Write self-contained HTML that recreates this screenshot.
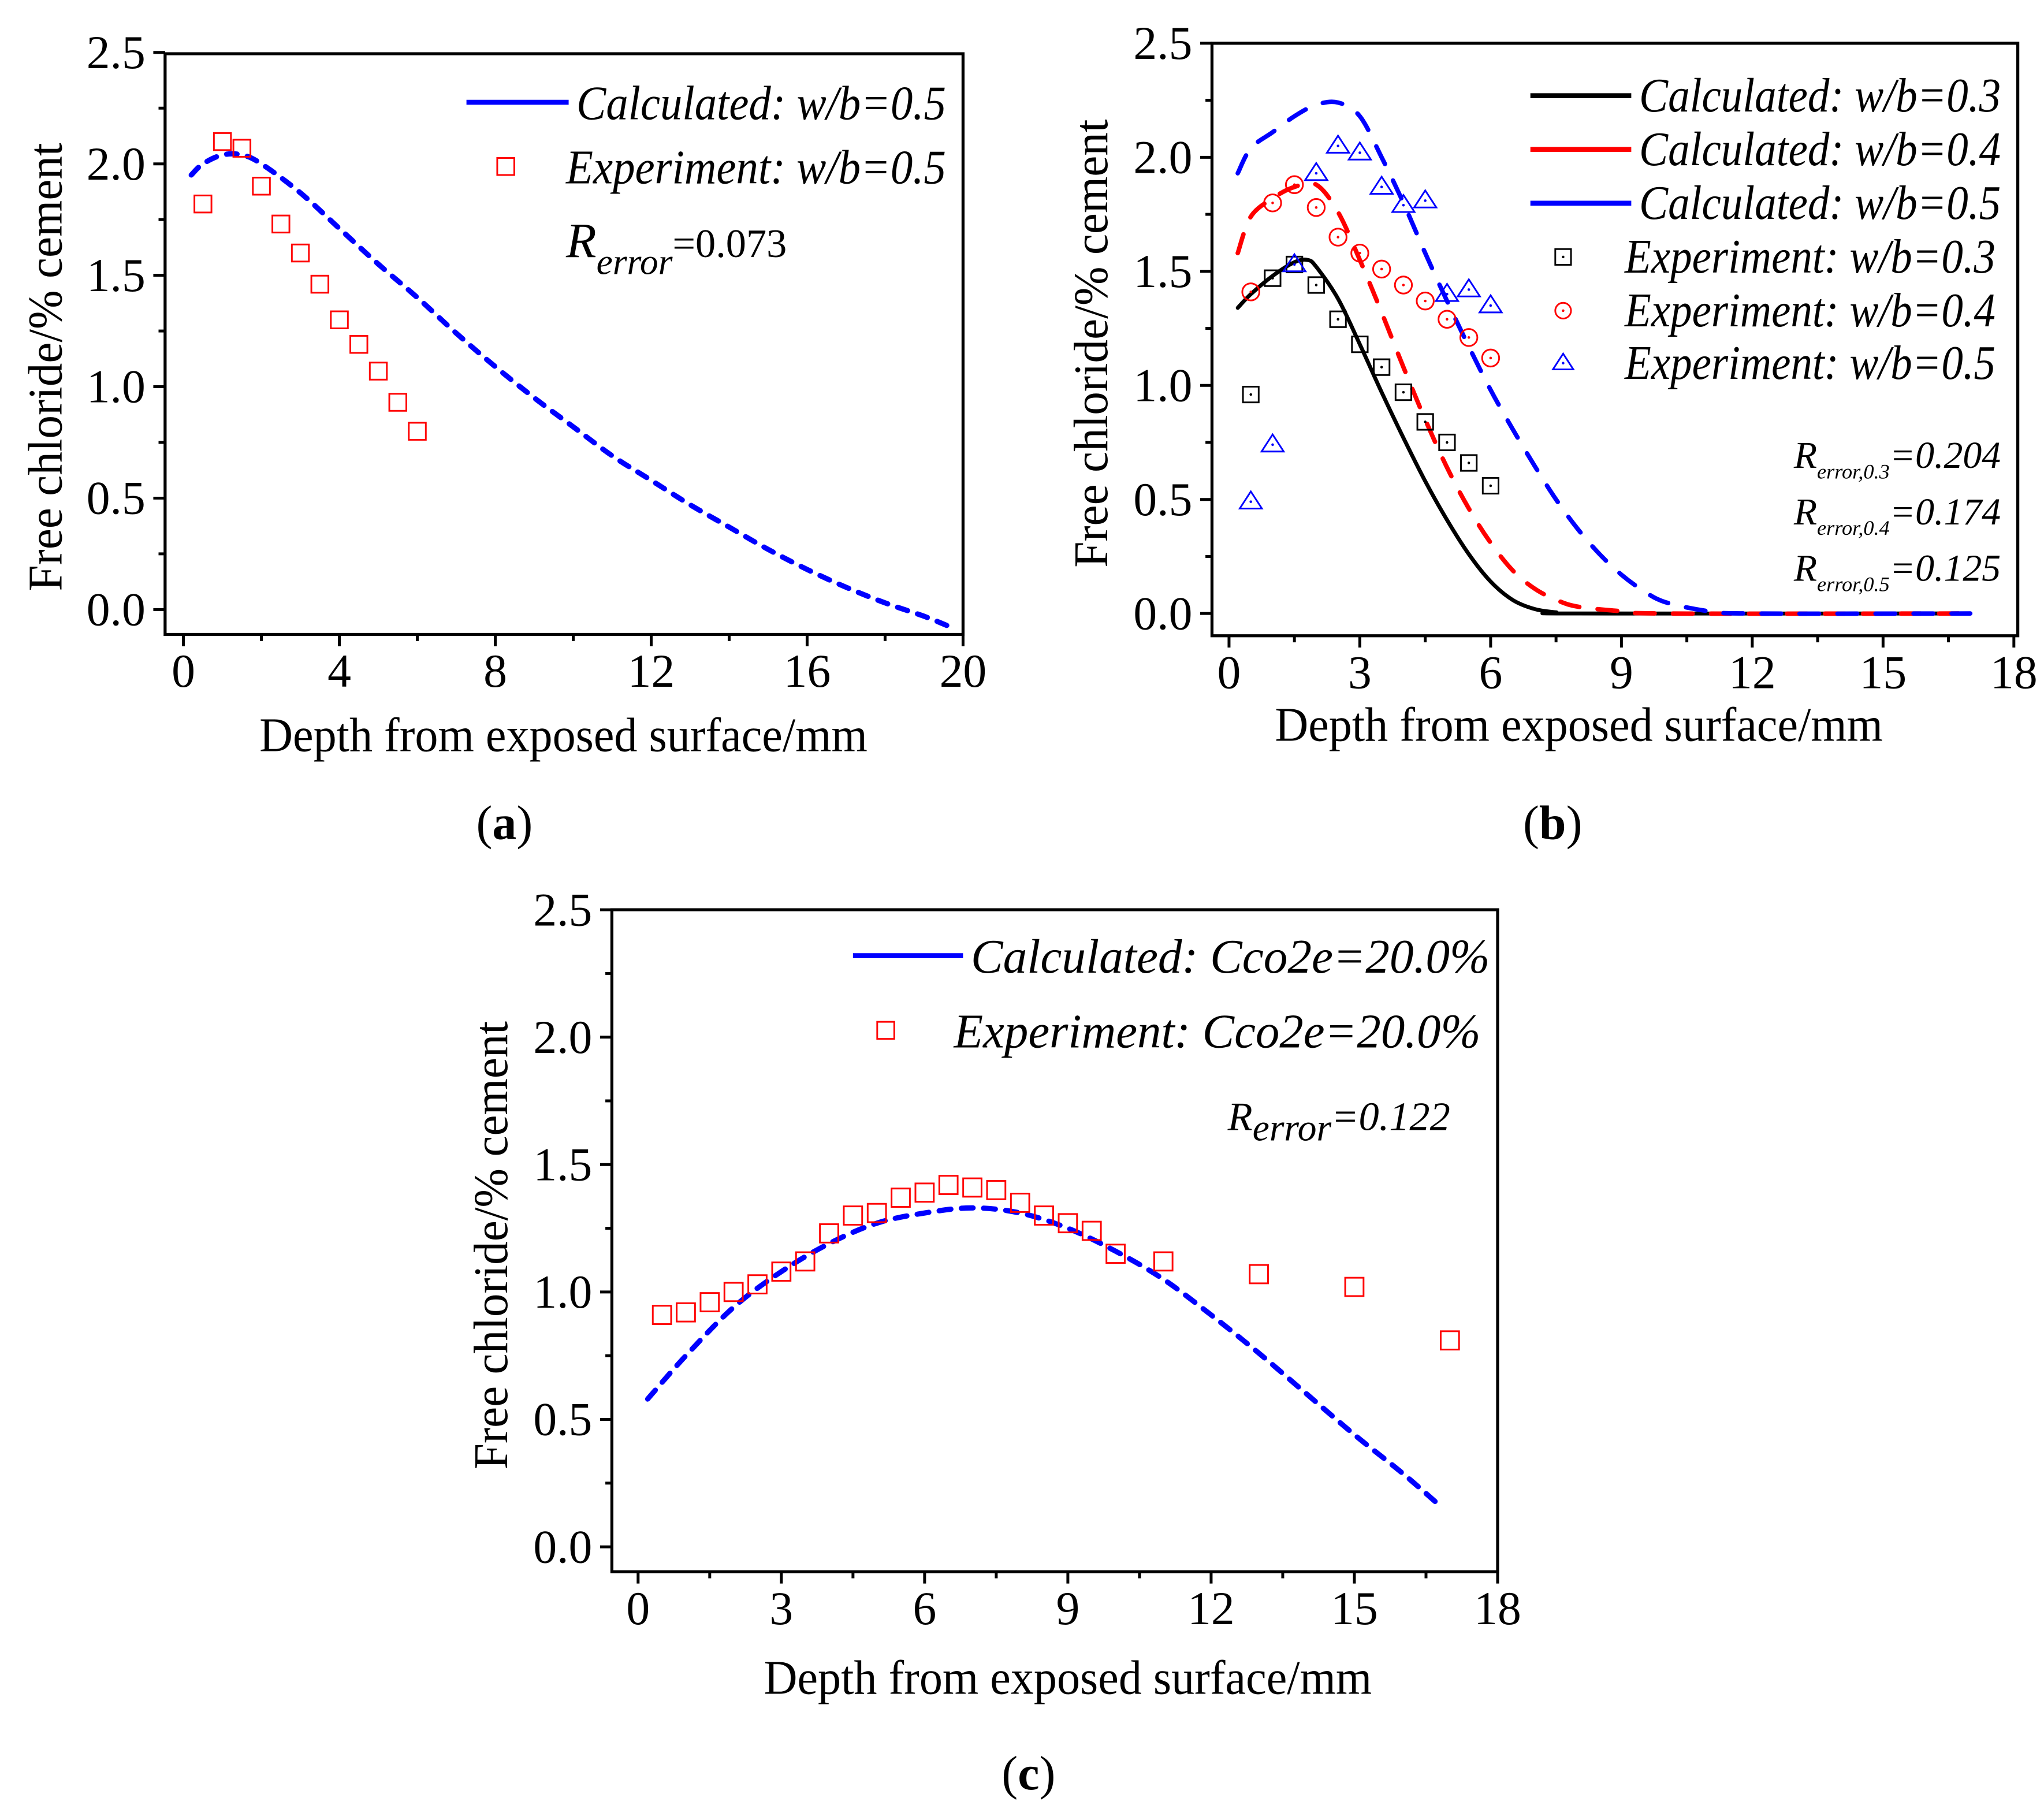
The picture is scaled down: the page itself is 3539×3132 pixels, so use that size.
<!DOCTYPE html>
<html><head><meta charset="utf-8"><style>
html,body{margin:0;padding:0;background:#fff;}
svg{display:block;}
text{font-family:"Liberation Serif",serif;}
</style></head><body>
<svg id="fig" width="3539" height="3132" viewBox="0 0 1560 1380" preserveAspectRatio="none" xmlns="http://www.w3.org/2000/svg"></svg>
<script>
// ---- Panel A data ----
const aExpX=[0.5,1,1.5,2,2.5,3,3.5,4,4.5,5,5.5,6];
const aExpY=[1.82,2.10,2.07,1.90,1.73,1.60,1.46,1.30,1.19,1.07,0.93,0.80];
const aCalcX=[0.2,0.5,1,1.5,2,3,4,5,6,7,8,9,10,11,12,13,14,15,16,17,18,19,19.7];
const aCalcY=[1.95,2.0,2.04,2.04,2.0,1.87,1.71,1.55,1.40,1.24,1.09,0.95,0.82,0.69,0.58,0.47,0.37,0.27,0.18,0.10,0.03,-0.03,-0.08];
const aXTicks=["0","4","8","12","16","20"];
const yTicks=["0.0","0.5","1.0","1.5","2.0","2.5"];
// ---- Panel B data ----
const bX=[0.5,1,1.5,2,2.5,3,3.5,4,4.5,5,5.5,6];
const bExp3=[0.96,1.47,1.53,1.44,1.29,1.18,1.08,0.97,0.84,0.75,0.66,0.56];
const bExp4=[1.41,1.80,1.88,1.78,1.65,1.58,1.51,1.44,1.37,1.29,1.21,1.12];
const bExp5=[0.49,0.74,1.53,1.93,2.05,2.02,1.87,1.79,1.81,1.40,1.42,1.35];
const bC3X=[0.2,0.5,1,1.5,1.8,2,2.5,3,3.5,4,4.5,5,5.5,6,6.5,7,7.5,8,17];
const bC3Y=[1.34,1.40,1.48,1.54,1.55,1.52,1.38,1.18,0.97,0.77,0.58,0.41,0.26,0.14,0.06,0.02,0.005,0,0];
const bC4X=[0.2,0.5,1,1.5,2,2.5,3,3.5,4,4.5,5,5.5,6,6.5,7,7.5,8,9,10,17];
const bC4Y=[1.58,1.74,1.82,1.87,1.88,1.76,1.55,1.32,1.08,0.85,0.64,0.46,0.31,0.19,0.11,0.06,0.03,0.01,0,0];
const bC5X=[0.2,0.5,1,1.5,2,2.5,3,3.5,4,4.5,5,5.5,6,6.5,7,7.5,8,8.5,9,9.5,10,11,12,17];
const bC5Y=[1.93,2.04,2.11,2.18,2.23,2.24,2.18,2.0,1.80,1.58,1.37,1.17,0.98,0.81,0.65,0.50,0.37,0.26,0.17,0.10,0.05,0.01,0,0];
const bXTicks=["0","3","6","9","12","15","18"];
// ---- Panel C data ----
const cExpX=[0.5,1,1.5,2,2.5,3,3.5,4,4.5,5,5.5,6,6.5,7,7.5,8,8.5,9,9.5,10,11,13,15,17];
const cExpY=[0.91,0.92,0.96,1.00,1.03,1.08,1.12,1.23,1.30,1.31,1.37,1.39,1.42,1.41,1.40,1.35,1.30,1.27,1.24,1.15,1.12,1.07,1.02,0.81];
const cCalcX=[0.2,1,2,3,4,5,6,7,8,9,10,11,12,13,14,15,16,16.8];
const cCalcY=[0.58,0.75,0.94,1.08,1.19,1.27,1.31,1.33,1.31,1.25,1.16,1.05,0.91,0.76,0.60,0.44,0.29,0.16];
const cXTicks=["0","3","6","9","12","15","18"];

const NS="http://www.w3.org/2000/svg";
const svg=document.getElementById('fig');
function mk(tag,attrs,parent){const e=document.createElementNS(NS,tag);for(const k in attrs)e.setAttribute(k,attrs[k]);(parent||svg).appendChild(e);return e;}

function panel(P){
  const g=mk('g',{});
  
  
  const sx=v=>P.x0+v*(P.x1-P.x0)/P.xmax;
  const sy=v=>P.y0-v*(P.y0-P.y25)/2.5;
  P.sx=sx;P.sy=sy;
  const fr=mk('rect',{x:P.L,y:P.T,width:P.R-P.L,height:P.B-P.T,fill:'none',stroke:'#000','stroke-width':2.3},g);
  
  
  for(let i=0;i<=10;i++){const v=i*0.25;const y=sy(v);const major=i%2==0;
    mk('line',{x1:P.L-(major?9:5),x2:P.L,y1:y,y2:y,stroke:'#000','stroke-width':2.2},g);
    if(major){const t=mk('text',{x:P.L-15,y:y+12,'font-size':36,'text-anchor':'end'},g);t.textContent=yTicks[i/2];
      
      }
  }
  const n=P.xt.length-1;
  for(let i=0;i<=2*n;i++){const v=i*P.xmax/(2*n);const x=sx(v);const major=i%2==0;
    mk('line',{x1:x,x2:x,y1:P.B,y2:P.B+(major?9:5),stroke:'#000','stroke-width':2.2},g);
    if(major){const t=mk('text',{x:x,y:P.B+40,'font-size':36,'text-anchor':'middle'},g);t.textContent=P.xt[i/2];
      
      }
  }
  const xt=mk('text',{x:P.xtx-232,y:P.xty,'font-size':37,textLength:464,lengthAdjust:'spacingAndGlyphs'},g);xt.textContent='Depth from exposed surface/mm';
  
  
  const yt=mk('text',{x:-171,y:0,'font-size':37,textLength:342,lengthAdjust:'spacingAndGlyphs',transform:`translate(${P.ytx},${P.yty}) rotate(-90)`},g);yt.textContent='Free chloride/% cement';
  
  
  const cap=mk('text',{x:P.capx,y:P.capy,'font-size':37,'text-anchor':'middle'},g);
  cap.innerHTML='(<tspan font-weight="bold">'+P.cap+'</tspan>)';
  
  
  return g;
}
function line(g,P,xs,ys,color,dash,name,w){
  const p0=xs.map((x,i)=>[P.sx(x),P.sy(ys[i])]);
  let d='M'+p0[0][0].toFixed(2)+','+p0[0][1].toFixed(2);
  for(let i=0;i<p0.length-1;i++){
    const a=p0[i-1]||p0[i],b=p0[i],c=p0[i+1],e=p0[i+2]||c;
    const c1=[b[0]+(c[0]-a[0])/6,b[1]+(c[1]-a[1])/6],c2=[c[0]-(e[0]-b[0])/6,c[1]-(e[1]-b[1])/6];
    d+='C'+c1.map(v=>v.toFixed(2))+' '+c2.map(v=>v.toFixed(2))+' '+c.map(v=>v.toFixed(2));
  }
  const p=mk('path',{d:d,fill:'none',stroke:color,'stroke-width':w,'stroke-linecap':'round','stroke-linejoin':'round'},g);
  if(dash)p.setAttribute('stroke-dasharray',dash);
  
  
}
function marker(g,x,y,type,color,dot,s){
  let e;
  if(type=='sq') e=mk('rect',{x:x-s/2,y:y-s/2,width:s,height:s,fill:'none',stroke:color,'stroke-width':1.3},g);
  else if(type=='ci') e=mk('circle',{cx:x,cy:y,r:s/2,fill:'none',stroke:color,'stroke-width':1.3},g);
  else e=mk('path',{d:`M${x},${y-s*0.6}L${x+s*0.65},${y+s*0.4}L${x-s*0.65},${y+s*0.4}Z`,fill:'none',stroke:color,'stroke-width':1.3},g);
  
  
  if(dot) mk('circle',{cx:x,cy:y,r:1,fill:color},g);
}
function pts(g,P,xs,ys,type,color,dot,s){xs.forEach((x,i)=>marker(g,P.sx(x),P.sy(ys[i]),type,color,dot,s));}
function ltext(g,x,y,str,len){const t=mk('text',{x:x,y:y,'font-size':37,'font-style':'italic'},g);t.textContent=str;
  if(len){t.setAttribute('textLength',len);t.setAttribute('lengthAdjust','spacingAndGlyphs');}
  
  return t;}

// Panel A
const A={name:'panel-a',L:126,R:735,T:41,B:484,x0:140,x1:735,xmax:20,y0:465,y25:40,xt:aXTicks,xtx:430,xty:573,ytx:47,yty:280,capx:385,capy:640,cap:'a'};
const ga=panel(A);
line(ga,A,aCalcX,aCalcY,'#0000ff','8,8','calculated-line',4);
pts(ga,A,aExpX,aExpY,'sq','#ff0000',false,13);
mk('line',{x1:356,x2:434,y1:78,y2:78,stroke:'#0000ff','stroke-width':3.8},ga);
ltext(ga,440,91,'Calculated: w/b=0.5',282);
marker(ga,386,127,'sq','#ff0000',false,13);
ltext(ga,432,140,'Experiment: w/b=0.5',290);
const ra=mk('text',{x:432,y:196,'font-size':38,'font-style':'italic'},ga);
ra.innerHTML='R<tspan font-size="28" dy="13">error</tspan><tspan font-style="normal" font-size="31" dy="-13">=0.073</tspan>';



// Panel B
const B={name:'panel-b',L:925,R:1540,T:33,B:485,x0:938,x1:1537,xmax:18,y0:468,y25:33,xt:bXTicks,xtx:1205,xty:565,ytx:845,yty:262,capx:1185,capy:640,cap:'b'};
const gb=panel(B);
line(gb,B,bC3X,bC3Y,'#000000',null,'calculated-wb03',3);
line(gb,B,bC4X,bC4Y,'#ff0000','15,14','calculated-wb04',3.4);
line(gb,B,bC5X,bC5Y,'#0000ff','15,14','calculated-wb05',3.4);
pts(gb,B,bX,bExp3,'sq','#000000',true,12);
pts(gb,B,bX,bExp4,'ci','#ff0000',true,13);
pts(gb,B,bX,bExp5,'tr','#0000ff',true,13);
[['#000000','0.3',73],['#ff0000','0.4',114],['#0000ff','0.5',155]].forEach(r=>{
  mk('line',{x1:1168,x2:1245,y1:r[2],y2:r[2],stroke:r[0],'stroke-width':3.8},gb);
  ltext(gb,1251,r[2]+12,'Calculated: w/b='+r[1],276);
});
[['sq','#000000','0.3',196],['ci','#ff0000','0.4',237],['tr','#0000ff','0.5',277]].forEach(r=>{
  marker(gb,1193,r[3],r[0],r[1],true,12);
  ltext(gb,1240,r[3]+12,'Experiment: w/b='+r[2],283);
});
[['0.3','0.204',357],['0.4','0.174',400],['0.5','0.125',443]].forEach(r=>{
  const t=mk('text',{x:1527,y:r[2],'font-size':29,'font-style':'italic','text-anchor':'end'},gb);
  t.innerHTML='R<tspan font-size="16" dy="8">error,'+r[0]+'</tspan><tspan dy="-8">='+r[1]+'</tspan>';
  
  
});

// Panel C
const C={name:'panel-c',L:467,R:1143,T:694,B:1199,x0:487,x1:1143,xmax:18,y0:1180,y25:694,xt:cXTicks,xtx:815,xty:1292,ytx:387,yty:950,capx:785,capy:1365,cap:'c'};
const gc=panel(C);
line(gc,C,cCalcX,cCalcY,'#0000ff','9,8','calculated-line',4);
pts(gc,C,cExpX,cExpY,'sq','#ff0000',false,14);
mk('line',{x1:651,x2:735,y1:729,y2:729,stroke:'#0000ff','stroke-width':3.8},gc);
ltext(gc,741,742,'Calculated: Cco2e=20.0%',396);
marker(gc,676,786,'sq','#ff0000',false,13);
ltext(gc,728,799,'Experiment: Cco2e=20.0%',402);
const rc=mk('text',{x:937,y:862,'font-size':31,'font-style':'italic'},gc);
rc.innerHTML='R<tspan font-size="29" dy="8">error</tspan><tspan dy="-8">=0.122</tspan>';


</script>
</body></html>
